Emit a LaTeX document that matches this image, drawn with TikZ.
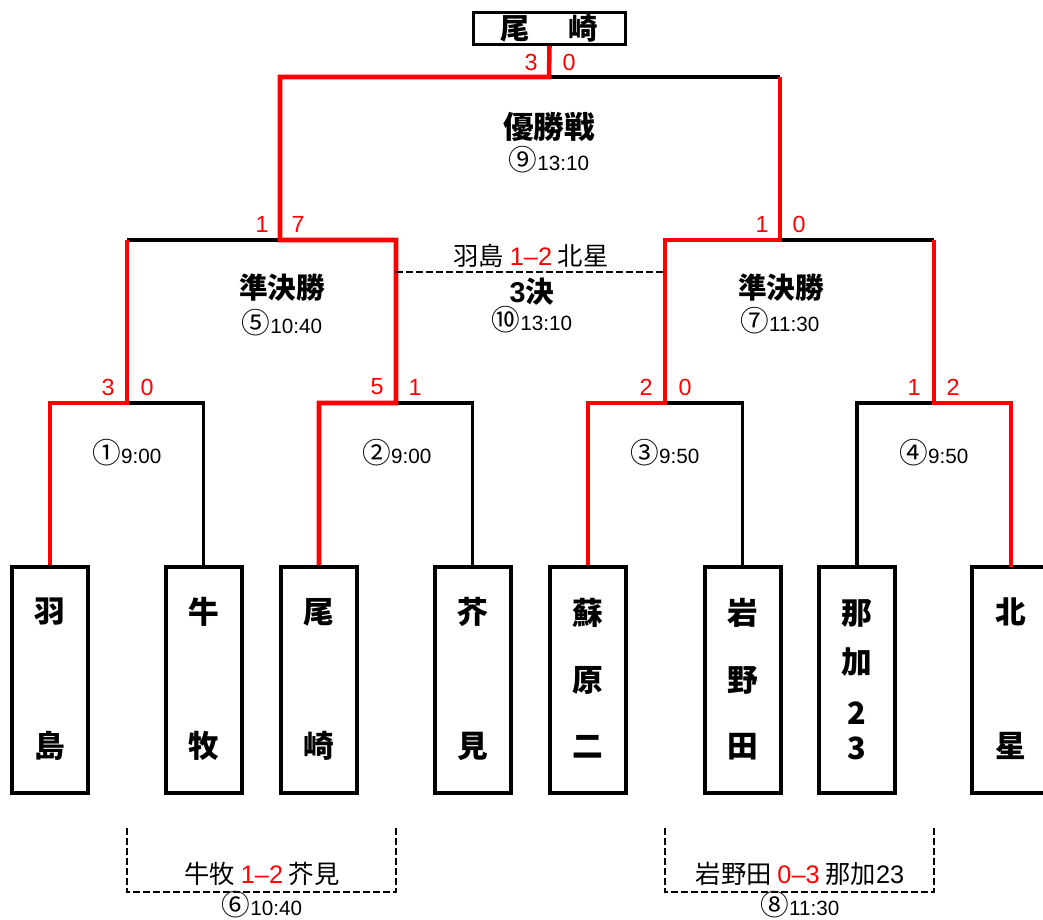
\documentclass[tikz,border=0pt]{standalone}
\usepackage{fontspec}
\setmainfont{Noto Sans CJK JP}
\newfontfamily\numfont{Liberation Sans}
\usetikzlibrary{positioning}

\newcommand{\cnum}[1]{{\fontfamily{\familydefault}\fontsize{21.5}{21.5}\selectfont #1}}

\tikzset{
  team/.style={draw, line width=3pt, minimum width=57pt, minimum height=169.5pt, inner sep=0pt},
  tname/.style={font=\bfseries\fontsize{23}{23}\selectfont, inner sep=0pt},
  champ/.style={draw, line width=2.2pt, minimum width=114pt, minimum height=24pt, inner sep=0pt, font=\bfseries\fontsize{22}{22}\selectfont},
  win/.style={color={rgb, 255:red, 255; green, 0; blue, 0}, line width=3.4pt},
  lose/.style={black, line width=2.3pt},
  score/.style={text={rgb, 255:red, 255; green, 0; blue, 0}, font=\numfont\fontsize{17.5}{17.5}\selectfont, inner sep=0pt},
  rname/.style={font=\bfseries\fontsize{21.5}{21.5}\selectfont, inner sep=0pt},
  rtime/.style={font=\numfont\fontsize{15.5}{15.5}\selectfont, inner sep=0pt},
  result/.style={font=\fontsize{19}{19}\selectfont, inner sep=0pt},
  consol/.style={line width=2pt, dash pattern=on 5pt off 2.5pt},
}
\newcommand{\rs}[1]{\textcolor{red}{\numfont #1}}

\begin{document}
\begin{tikzpicture}[x=0.75pt,y=0.75pt,yscale=-1,xscale=1]
\useasboundingbox (0,0) rectangle (1043,920);

%Team boxes
\node [team] (t1) at (50,680) {};
\node [team] (t2) at (203.5,680) {};
\node [team] (t3) at (319,680) {};
\node [team] (t4) at (472.5,680) {};
\node [team] (t5) at (588,680) {};
\node [team] (t6) at (742.5,680) {};
\node [team] (t7) at (857,680) {};
\node [team, minimum width=66pt] (t8) at (1016,680) {};

%Champion box
\node [champ] (ch) at (549.5,28.5) {尾\hspace{29pt}崎};

%Junctions
\coordinate (m1) at (127,403);
\coordinate (m2) at (396,403);
\coordinate (m3) at (665,403);
\coordinate (m4) at (934,403);
\coordinate (s5) at (280,240);
\coordinate (s7) at (780,240);
\coordinate (f9) at (549,77);
\coordinate (n8) at (1011,567);

%Lost lines
\draw [lose] (t2.north) |- (m1);
\draw [lose] (t4.north) |- (m2);
\draw [lose] (t6.north) |- (m3);
\draw [lose] (t7.north) |- (m4);
\draw [lose] (m1 |- s5) -- (s5);
\draw [lose] (m4 |- s7) -- (s7);
\draw [lose] (s7 |- f9) -- (f9);

%Won lines
\draw [win] (t1.north) |- (m1) -- (m1 |- s5);
\draw [win] (t3.north) |- (m2) |- (s5) |- (f9) -- (ch.south);
\draw [win] (t5.north) |- (m3) |- (s7) -- (s7 |- f9);
\draw [win] (n8) |- (m4) -- (m4 |- s7);

%Third place line
\coordinate (th1) at (396,272);
\coordinate (th2) at (665,272);
\draw [consol] (th1) -- (th2);

%Consolation lines
\draw [consol] (127,828) |- (396,892) -- (396,828);
\draw [consol] (665,828) |- (934,892) -- (934,828);

% Team names
\node [tname] at (50,612) {羽};
\node [tname] at (50,746) {島};
\node [tname] at (203.5,612) {牛};
\node [tname] at (203.5,746) {牧};
\node [tname] at (319,612) {尾};
\node [tname] at (319,746) {崎};
\node [tname] at (472.5,612) {芥};
\node [tname] at (472.5,746) {見};
\node [tname] at (588,613) {蘇};
\node [tname] at (588,680) {原};
\node [tname] at (588,747) {二};
\node [tname] at (742.5,613) {岩};
\node [tname] at (742.5,680) {野};
\node [tname] at (742.5,747) {田};
\node [tname] at (857,613) {那};
\node [tname] at (857,662) {加};
\node [tname] at (857,713) {2};
\node [tname] at (857,748) {3};
\node [tname] at (1011,612) {北};
\node [tname] at (1011,746) {星};

% Scores
\node [score] at (531,62) {3};
\node [score] at (569,62) {0};
\node [score] at (262,224) {1};
\node [score] at (298,224) {7};
\node [score] at (762,224) {1};
\node [score] at (799,224) {0};
\node [score] at (108,387) {3};
\node [score] at (147,387) {0};
\node [score] at (377,387) {5};
\node [score] at (415,387) {1};
\node [score] at (646,387) {2};
\node [score] at (685,387) {0};
\node [score] at (914,387) {1};
\node [score] at (953,387) {2};

% Round names
\node [rname, font=\bfseries\fontsize{23}{23}\selectfont] at (549,127) {優勝戦};
\node [rtime] at (549,160) {\cnum{⑨}13:10};
\node [rname] at (282,288) {準決勝};
\node [rtime] at (282,323) {\cnum{⑤}10:40};
\node [rname] at (781,288) {準決勝};
\node [rtime] at (780,321) {\cnum{⑦}11:30};
\node [rname] at (532,292) {\numfont\bfseries 3\fontfamily{\familydefault}\selectfont 決};
\node [rtime] at (532,320) {\cnum{⑩}13:10};
\node [rtime] at (127,453) {\cnum{①}9:00};
\node [rtime] at (397,453) {\cnum{②}9:00};
\node [rtime] at (665,453) {\cnum{③}9:50};
\node [rtime] at (934,453) {\cnum{④}9:50};

% Results
\node [result] at (531,256) {羽島 \rs{1–2} 北星};
\node [result] at (262,874) {牛牧 \rs{1–2} 芥見};
\node [rtime] at (262,905) {\cnum{⑥}10:40};
\node [result] at (800,874) {岩野田 \rs{0–3} 那加{\numfont 23}};
\node [rtime] at (800,905) {\cnum{⑧}11:30};

\end{tikzpicture}
\end{document}
